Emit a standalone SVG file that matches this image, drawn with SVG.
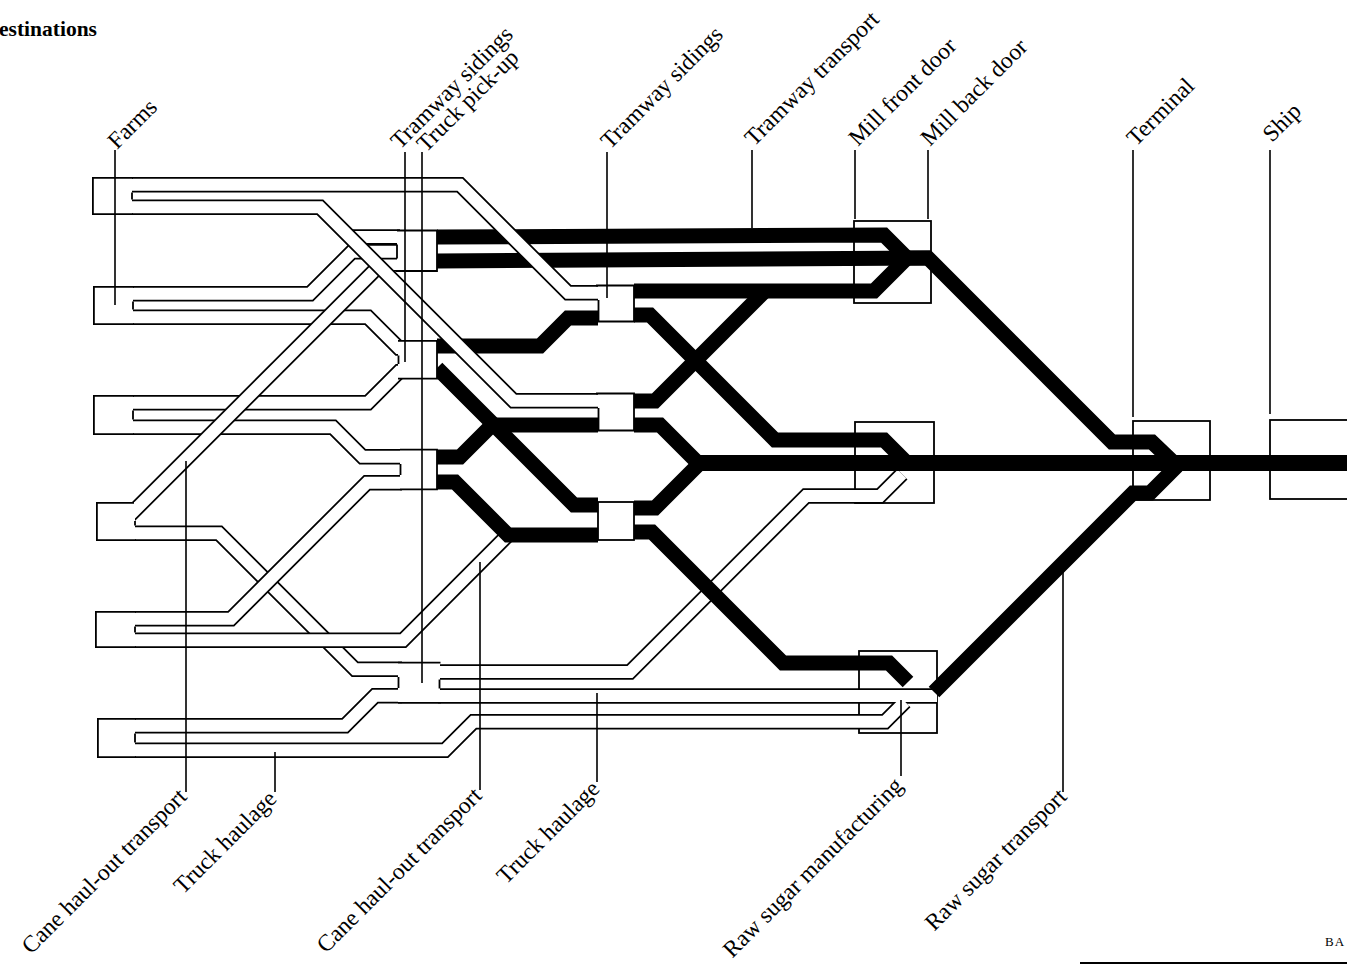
<svg xmlns="http://www.w3.org/2000/svg" xmlns:xlink="http://www.w3.org/1999/xlink" width="1347" height="966" viewBox="0 0 1347 966">
<style>
.tb{fill:none;stroke:#000;stroke-width:15.5;stroke-linejoin:miter}
.tw{fill:none;stroke:#fff;stroke-width:12;stroke-linejoin:miter}
.bk{fill:none;stroke:#000;stroke-width:15;stroke-linejoin:miter}
.ln{fill:none;stroke:#000;stroke-width:1.8}
.ld{fill:none;stroke:#000;stroke-width:1.6}
.bx{fill:#fff;stroke:#000;stroke-width:1.8}
.wf{fill:#fff;stroke:none}
.lb{font-family:"Liberation Serif","Times New Roman",serif;font-size:23.5px;fill:#000}
.tt{font-family:"Liberation Serif","Times New Roman",serif;font-size:21.5px;font-weight:bold;fill:#000}
</style>
<defs>
<path id="f1t" d="M110 184.75H460L568 292.75H600"/>
<path id="f1b" d="M110 207.25H320L513.5 400.75H600"/>
<path id="f1r" d="M350 237H400"/>
<path id="f2t" d="M110 293.75H310L352 251.75H397"/>
<path id="f2b" d="M110 317.25H368L398.75 348H402"/>
<path id="f3t" d="M110 402.75H368L399 371.75H402"/>
<path id="f3b" d="M110 427.25H333L362.5 456.75H402"/>
<path id="f4t" d="M125 520L381 264H400"/>
<path id="f4b" d="M110 533.25H219L355 669.25H402"/>
<path id="f5t" d="M110 618.75H231L367 482.75H402"/>
<path id="f5b" d="M110 640.25H403L510 533"/>
<path id="f6t" d="M110 725.75H345L375 695.75H402"/>
<path id="f6b" d="M110 750.25H445L473.5 721.75H885L905 701.75"/>
<path id="tp1" d="M438 672H630L806 496H880L902 474"/>
<path id="tp2" d="M438 696H937"/>
</defs>

<g id="mill-front-door"><rect class="bx" x="854" y="221" width="77" height="82"/></g>
<g id="mill-back-door"><rect class="bx" x="855" y="422" width="79" height="81"/></g>
<g id="raw-sugar-manufacturing-box"><rect class="bx" x="859" y="651" width="78" height="82"/></g>
<g id="terminal"><rect class="bx" x="1133" y="421" width="77" height="79"/></g>
<g id="ship"><rect class="bx" x="1270" y="420" width="90" height="79"/></g>

<g id="connectors">
<g id="haul-tubes">
<use href="#f2b" class="tb"/><use href="#f2b" class="tw"/>
<use href="#f3t" class="tb"/><use href="#f3t" class="tw"/>
<use href="#f3b" class="tb"/><use href="#f3b" class="tw"/>
<use href="#f1r" class="tb"/><use href="#f1r" class="tw"/>
<use href="#f4t" class="tb"/><use href="#f4t" class="tw"/>
<use href="#f2t" class="tb"/><use href="#f2t" class="tw"/>
<use href="#f4b" class="tb"/><use href="#f4b" class="tw"/>
<use href="#f5t" class="tb"/><use href="#f5t" class="tw"/>
<use href="#f5b" class="tb"/><use href="#f5b" class="tw"/>
<use href="#f6t" class="tb"/><use href="#f6t" class="tw"/>
<use href="#tp1" class="tb"/><use href="#tp1" class="tw"/>
<use href="#f6b" class="tb"/><use href="#tp2" class="tb"/>
<use href="#f6b" class="tw"/><use href="#tp2" class="tw"/>
</g>
<g id="tramway-lines">
<path class="bk" d="M437 237L884 235L907 258"/>
<path class="bk" d="M437 261L931 258"/>
<path class="bk" d="M634 291H874L907 258"/>
<path class="bk" d="M437 346H540L568 318H598"/>
<path class="bk" d="M437 368L574 505H598"/>
<path class="bk" d="M492 425H598"/>
<path class="bk" d="M437 457H460L494 423"/>
<path class="bk" d="M437 482H455L508 535H598"/>
<path class="bk" d="M634 315H650L775 440H884L907 463"/>
<path class="bk" d="M634 401H655L766 290"/>
<path class="bk" d="M634 425H660L698 463"/>
<path class="bk" d="M634 508H655L700 463"/>
<path class="bk" d="M634 532H652L783 663H889L908 682"/>
<path class="bk" d="M690 463H1347" style="stroke-width:16"/>
<path class="bk" d="M905 258H928L1112 442H1152L1176 465"/>
<path class="bk" d="M934 692L1133 493H1150L1177 466"/>
</g>
<g id="haul-tubes-over">
<use href="#f1t" class="tb"/><use href="#f1t" class="tw"/>
<use href="#f1b" class="tb"/><use href="#f1b" class="tw"/>
</g>
</g>

<g id="farm-1"><rect class="wf" x="92" y="177" width="40" height="38"/><path class="ln" d="M133 177.9H92.9V214.1H133M132 192.5V199.5"/></g>
<g id="farm-2"><rect class="wf" x="93" y="286" width="40" height="39"/><path class="ln" d="M134 286.9H93.9V324.1H134M133 301.5V309.5"/></g>
<g id="farm-3"><rect class="wf" x="93" y="395" width="40" height="40"/><path class="ln" d="M134 395.9H93.9V434.1H134M133 410.5V419.5"/></g>
<g id="farm-4"><rect class="wf" x="96" y="502" width="39" height="39"/><path class="ln" d="M134 502.9H96.9V540.1H136M135 521V525.5"/></g>
<g id="farm-5"><rect class="wf" x="95" y="611" width="40" height="37"/><path class="ln" d="M136 611.9H95.9V647.1H136M135 626.5V632.5"/></g>
<g id="farm-6"><rect class="wf" x="97" y="718" width="38" height="40"/><path class="ln" d="M136 718.9H97.9V757.1H136M135 733.5V742.5"/></g>

<g id="tramway-siding-a"><rect class="wf" x="397" y="230.5" width="40" height="40.5"/><path class="ln" d="M397 230.5H437V271H396M397 244.5V258.5"/></g>
<g id="tramway-siding-b"><rect class="wf" x="398" y="340.5" width="39" height="38.5"/><path class="ln" d="M398 340.9H437V378.6H398M398.5 355.5V364"/></g>
<g id="tramway-siding-c"><rect class="wf" x="400" y="449" width="37" height="41"/><path class="ln" d="M400 449.6H437V489.4H400M400.5 464V475"/></g>
<g id="truck-pick-up"><rect class="wf" x="398" y="662" width="42" height="41.5"/><path class="ln" d="M398 662.6H440.5M398 702.9H440.5M398.5 677V688M439.5 679.5V688.5"/></g>

<g id="siding-box-1"><rect class="wf" x="598" y="285" width="36" height="37"/><path class="ln" d="M598.5 300V321.5H634V285.5H596"/></g>
<g id="siding-box-2"><rect class="wf" x="598" y="393" width="36" height="38"/><path class="ln" d="M598.5 408V430.5H634V393.5H596"/></g>
<g id="siding-box-3"><rect class="bx" x="598" y="502" width="36" height="38"/></g>

<g id="leaders">
<path class="ld" d="M115 150V305M405 152V362M422 152V683M607 152V298M752 150V228M855 150V219M928 150V219M1133 150V417M1270 150V414"/>
<path class="ld" d="M186 461V792M275 752V792M480 562V790M597 693V782M901 700V776M1063 563V792"/>
</g>

<g id="labels">
<text class="tt" x="-1" y="36">estinations</text>
<text class="lb" transform="translate(117 150) rotate(-45)">Farms</text>
<text class="lb" transform="translate(400 150) rotate(-45)">Tramway sidings</text>
<text class="lb" transform="translate(426 153) rotate(-45)">Truck pick-up</text>
<text class="lb" transform="translate(610 150) rotate(-45)">Tramway sidings</text>
<text class="lb" transform="translate(754 147) rotate(-45)">Tramway transport</text>
<text class="lb" transform="translate(858 147) rotate(-45)">Mill front door</text>
<text class="lb" transform="translate(930 147) rotate(-45)">Mill back door</text>
<text class="lb" transform="translate(1136 147) rotate(-45)">Terminal</text>
<text class="lb" transform="translate(1272 143) rotate(-45)">Ship</text>
<text class="lb" text-anchor="end" transform="translate(188 798) rotate(-45)">Cane haul-out transport</text>
<text class="lb" text-anchor="end" transform="translate(278 800) rotate(-45)">Truck haulage</text>
<text class="lb" text-anchor="end" transform="translate(483 797) rotate(-45)">Cane haul-out transport</text>
<text class="lb" text-anchor="end" transform="translate(601 790) rotate(-45)">Truck haulage</text>
<text class="lb" text-anchor="end" transform="translate(904 787) rotate(-45)">Raw sugar manufacturing</text>
<text class="lb" text-anchor="end" transform="translate(1068 798) rotate(-45)">Raw sugar transport</text>
<text x="1325" y="946" style="font-family:'Liberation Serif',serif;font-size:13px;letter-spacing:1px">BA</text>
<path d="M1080 963H1347" stroke="#000" stroke-width="2"/>
</g>
</svg>
